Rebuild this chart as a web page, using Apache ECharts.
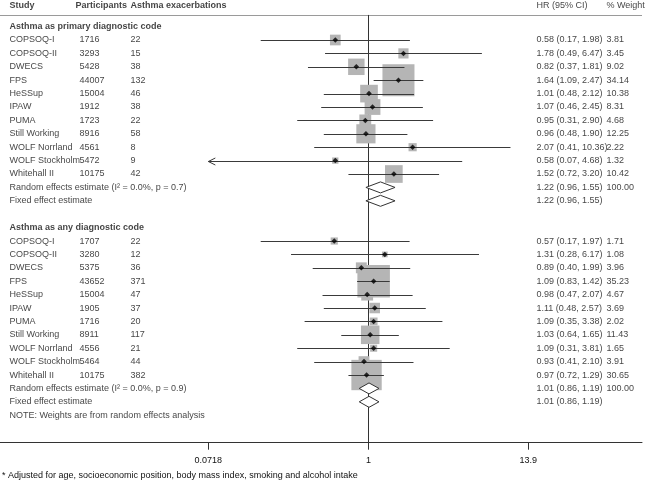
<!DOCTYPE html>
<html><head><meta charset="utf-8">
<script src="https://cdn.jsdelivr.net/npm/echarts@6/dist/echarts.min.js"></script>
<style>html,body{margin:0;padding:0;background:#fff}#c{width:647px;height:482px}</style>
</head><body><div id="c"></div>
<script>
// ---------- data ----------
const studies = ['COPSOQ-I','COPSOQ-II','DWECS','FPS','HeSSup','IPAW','PUMA','Still Working','WOLF Norrland','WOLF Stockholm','Whitehall II'];
const headers = ['Study','Participants','Asthma exacerbations','HR (95% CI)','% Weight'];
const headerBold = [true,true,true,false,false];
const sectionTitles = ['Asthma as primary diagnostic code','Asthma as any diagnostic code'];

const participants1 = [1716,3293,5428,44007,15004,1912,1723,8916,4561,5472,10175];
const events1 = [22,15,38,132,46,38,22,58,8,9,42];
const hr1 = [0.58,1.78,0.82,1.64,1.01,1.07,0.95,0.96,2.07,0.58,1.52];
const lo1 = [0.17,0.49,0.37,1.09,0.48,0.46,0.31,0.48,0.41,0.07,0.72];
const hi1 = [1.98,6.47,1.81,2.47,2.12,2.45,2.90,1.90,10.36,4.68,3.20];
const weight1 = [3.81,3.45,9.02,34.14,10.38,8.31,4.68,12.25,2.22,1.32,10.42];
const pooledLabels1 = ['Random effects estimate (I\u00B2 = 0.0%, p = 0.7)','Fixed effect estimate'];
const pooledHR1 = [1.22,1.22];
const pooledLo1 = [0.96,0.96];
const pooledHi1 = [1.55,1.55];
const pooledW1 = [100.00,null];

const participants2 = [1707,3280,5375,43652,15004,1905,1716,8911,4556,5464,10175];
const events2 = [22,12,36,371,47,37,20,117,21,44,382];
const hr2 = [0.57,1.31,0.89,1.09,0.98,1.11,1.09,1.03,1.09,0.93,0.97];
const lo2 = [0.17,0.28,0.40,0.83,0.47,0.48,0.35,0.64,0.31,0.41,0.72];
const hi2 = [1.97,6.17,1.99,1.42,2.07,2.57,3.38,1.65,3.81,2.10,1.29];
const weight2 = [1.71,1.08,3.96,35.23,4.67,3.69,2.02,11.43,1.65,3.91,30.65];
const pooledLabels2 = ['Random effects estimate (I\u00B2 = 0.0%, p = 0.9)','Fixed effect estimate'];
const pooledHR2 = [1.01,1.01];
const pooledLo2 = [0.86,0.86];
const pooledHi2 = [1.19,1.19];
const pooledW2 = [100.00,null];

const tickValues = [0.0718,1,13.9];
const tickLabels = ['0.0718','1','13.9'];
const note = 'NOTE: Weights are from random effects analysis';
const footnote = '* Adjusted for age, socioeconomic position, body mass index, smoking and alcohol intake';

// ---------- layout ----------
const FONT = '"Liberation Sans", Arial, Helvetica, sans-serif';
const FS = 9;
const TXT = '#111';
const HEADER_X = [9,75,130,536,606];
const COL = {study:9, part:79, ev:130, hr:536, w:606};
const HEADER_K = -1.61, LINE_K = -0.87, AXIS_K = 31.05, Y_MIN = -1.985;
const PX_RIGHT = 642;
const LN_MIN = -6.062, LN_MAX = 4.502;

const sections = [
  {k0:0, title:sectionTitles[0], n:participants1, ev:events1, hr:hr1, lo:lo1, hi:hi1, w:weight1,
   pl:pooledLabels1, phr:pooledHR1, plo:pooledLo1, phi:pooledHi1, pw:pooledW1},
  {k0:15, title:sectionTitles[1], n:participants2, ev:events2, hr:hr2, lo:lo2, hi:hi2, w:weight2,
   pl:pooledLabels2, phr:pooledHR2, plo:pooledLo2, phi:pooledHi2, pw:pooledW2}
];
const f2 = v => v.toFixed(2);
const hrText = (h,l,u) => `${f2(h)} (${f2(l)}, ${f2(u)})`;

const boldText = [], plainText = [], boxes = [], dots = [], cis = [], diamonds = [];
headers.forEach((h,i)=>{
  (headerBold[i] ? boldText : plainText).push([HEADER_X[i], HEADER_K, h]);
});
sections.forEach(s=>{
  boldText.push([COL.study, s.k0, s.title]);
  studies.forEach((name,i)=>{
    const k = s.k0+1+i;
    plainText.push([COL.study,k,name]);
    plainText.push([COL.part,k,String(s.n[i])]);
    plainText.push([COL.ev,k,String(s.ev[i])]);
    plainText.push([COL.hr,k,hrText(s.hr[i],s.lo[i],s.hi[i])]);
    plainText.push([COL.w,k,f2(s.w[i])]);
    boxes.push([Math.log(s.hr[i]),k,s.w[i]]);
    dots.push([Math.log(s.hr[i]),k]);
    cis.push([Math.log(s.lo[i]),Math.log(s.hi[i]),k]);
  });
  s.pl.forEach((lab,j)=>{
    const k = s.k0+12+j;
    plainText.push([COL.study,k,lab]);
    plainText.push([COL.hr,k,hrText(s.phr[j],s.plo[j],s.phi[j])]);
    if(s.pw[j]!=null) plainText.push([COL.w,k,f2(s.pw[j])]);
    diamonds.push([Math.log(s.plo[j]),Math.log(s.phr[j]),Math.log(s.phi[j]),k]);
  });
});
plainText.push([COL.study,29,note]);

const LN_TICK_MIN = Math.log(tickValues[0]), LN_TICK_MAX = Math.log(tickValues[tickValues.length-1]);
const lnTicks = tickValues.map(Math.log);

function textSeries(data, bold){
  return {
    type:'scatter', xAxisIndex:1, yAxisIndex:0, data, symbolSize:1, silent:true, z:10,
    itemStyle:{color:'rgba(0,0,0,0)'},
    label:{show:true, position:'right', distance:0, formatter:p=>p.data[2],
      fontFamily:FONT, fontSize:FS, color:TXT, fontWeight: bold?'bold':'normal'},
    emphasis:{disabled:true}
  };
}

const chart = echarts.init(document.getElementById('c'), null, {renderer:'canvas'});
chart.setOption({
  animation:false,
  backgroundColor:'#fff',
  grid:{left:0, right:647-PX_RIGHT, top:0, bottom:482-442.7, containLabel:false},
  xAxis:[
    {type:'value', min:LN_MIN, max:LN_MAX, gridIndex:0,
     axisLine:{show:true, onZero:false, lineStyle:{color:'#333', width:1}},
     axisTick:{show:true, customValues:lnTicks, length:7, lineStyle:{color:'#333'}},
     axisLabel:{show:true, customValues:lnTicks, margin:13, fontFamily:FONT, fontSize:FS, color:TXT,
       formatter:v=>{let b=0;lnTicks.forEach((t,i)=>{if(Math.abs(t-v)<Math.abs(lnTicks[b]-v))b=i;});return tickLabels[b];}},
     splitLine:{show:false}},
    {type:'value', min:0, max:PX_RIGHT, gridIndex:0, show:false}
  ],
  yAxis:{type:'value', inverse:true, min:Y_MIN, max:AXIS_K, show:false},
  graphic:[{type:'text', left:2, top:471, style:{text:footnote, font:`${FS}px ${FONT}`, fill:TXT}}],
  series:[
    // header rule
    {type:'custom', xAxisIndex:1, data:[[0,PX_RIGHT,LINE_K]], silent:true, z:1,
     renderItem:(p,api)=>{const a=api.coord([api.value(0),api.value(2)]), b=api.coord([api.value(1),api.value(2)]);
       const y=Math.round(a[1])+0.5;
       return {type:'line', shape:{x1:a[0],y1:y,x2:b[0],y2:y}, style:{stroke:'#9a9a9a', lineWidth:1}};}},
    // reference line at HR = 1
    {type:'custom', xAxisIndex:0, data:[[0,LINE_K,AXIS_K]], silent:true, z:1,
     renderItem:(p,api)=>{const a=api.coord([api.value(0),api.value(1)]), b=api.coord([api.value(0),api.value(2)]);
       const x=Math.round(a[0])+0.5;
       return {type:'line', shape:{x1:x,y1:a[1],x2:x,y2:b[1]}, style:{stroke:'#333', lineWidth:1}};}},
    // weight boxes
    {type:'scatter', xAxisIndex:0, data:boxes, symbol:'rect', silent:true, z:2,
     symbolSize:v=>5.48*Math.sqrt(v[2]), itemStyle:{color:'#b5b5b5', opacity:1}, emphasis:{disabled:true}},
    // CI lines
    {type:'custom', xAxisIndex:0, data:cis, silent:true, z:3, encode:{x:[0,1], y:2},
     renderItem:(p,api)=>{
       const lo=api.value(0), hi=api.value(1), k=api.value(2);
       const cl=Math.max(lo,LN_TICK_MIN), ch=Math.min(hi,LN_TICK_MAX);
       const a=api.coord([cl,k]), b=api.coord([ch,k]);
       const y=Math.round(a[1])+0.5;
       const ch2=[{type:'line', shape:{x1:a[0],y1:y,x2:b[0],y2:y}, style:{stroke:'#3a3a3a', lineWidth:1}}];
       if(lo<LN_TICK_MIN) ch2.push({type:'polyline', shape:{points:[[a[0]+7,y-3.5],[a[0],y],[a[0]+7,y+3.5]]}, style:{stroke:'#3a3a3a', fill:null, lineWidth:1}});
       if(hi>LN_TICK_MAX) ch2.push({type:'polyline', shape:{points:[[b[0]-7,y-3.5],[b[0],y],[b[0]-7,y+3.5]]}, style:{stroke:'#3a3a3a', fill:null, lineWidth:1}});
       return {type:'group', children:ch2};
     }},
    // point estimates
    {type:'scatter', xAxisIndex:0, data:dots, symbol:'diamond', symbolSize:5.5, silent:true, z:4,
     itemStyle:{color:'#000'}, emphasis:{disabled:true}},
    // pooled diamonds
    {type:'custom', xAxisIndex:0, data:diamonds, silent:true, z:3, encode:{x:[0,1,2], y:3},
     renderItem:(p,api)=>{
       const k=api.value(3);
       const L=api.coord([api.value(0),k]), C=api.coord([api.value(1),k]), R=api.coord([api.value(2),k]);
       const h=5.5;
       return {type:'polygon', shape:{points:[[L[0],L[1]],[C[0],C[1]-h],[R[0],R[1]],[C[0],C[1]+h]]},
         style:{fill:'#fff', stroke:'#333', lineWidth:1}};
     }},
    textSeries(boldText,true),
    textSeries(plainText,false)
  ]
});
</script></body></html>
